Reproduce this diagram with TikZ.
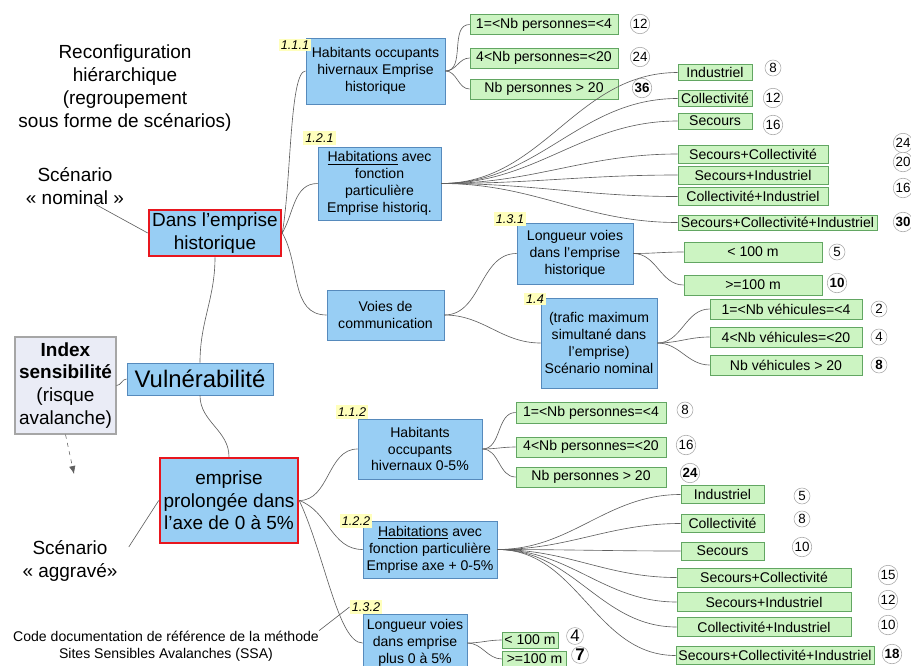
\documentclass[tikz,border=0pt]{standalone}
\usepackage{fontspec}
\setmainfont{Liberation Sans}
\usepackage{xcolor}
\usetikzlibrary{arrows.meta,positioning,calc}

\definecolor{boxblue}{RGB}{152,206,244}
\definecolor{edgeblue}{RGB}{86,138,188}
\definecolor{boxgreen}{RGB}{204,244,194}
\definecolor{edgegreen}{RGB}{98,166,98}
\definecolor{tagyellow}{RGB}{255,255,188}
\definecolor{keyred}{RGB}{232,22,30}
\definecolor{indexfill}{RGB}{234,236,246}
\definecolor{linkgray}{RGB}{95,95,95}

\tikzset{
  mmbox/.style={draw=edgeblue,fill=boxblue,line width=0.6pt,align=center,inner sep=1pt},
  keybox/.style={draw=keyred,fill=boxblue,line width=1.8pt,align=center,inner sep=1pt,font=\fontsize{13.5}{16}\selectfont},
  indexbox/.style={draw=gray!70,fill=indexfill,line width=0.8pt,align=center,inner sep=1pt,font=\fontsize{13.5}{16.3}\selectfont},
  leafbox/.style={draw=edgegreen,fill=boxgreen,line width=0.5pt,align=center,inner sep=1pt},
  numtag/.style={fill=tagyellow,inner sep=1.5pt,font=\fontsize{9}{10}\selectfont\itshape},
  score/.style={circle,draw=gray!70,fill=white,inner sep=0.5pt,minimum size=4mm,font=\fontsize{9.5}{10}\selectfont},
  note/.style={align=center,inner sep=0pt,font=\fontsize{13.5}{16.3}\selectfont},
  link/.style={draw=linkgray,line width=0.45pt}
}

\begin{document}
\begin{tikzpicture}[x=0.25mm,y=-0.25mm,>=Latex,font=\fontsize{10}{12}\selectfont]
  \useasboundingbox (0,0) rectangle (911,666);

  % left column
  \node[note] (reconf) at (125,88) {Reconfiguration\\hiérarchique\\(regroupement\\sous forme de scénarios)};
  \node[note] (nominal) at (75,186) {Scénario\\« nominal »};
  \node[keybox,minimum width=33mm,minimum height=11.5mm] (dans) at (215,233) {Dans l'emprise\\historique};
  \node[mmbox,font=\fontsize{17}{20}\selectfont,minimum width=36.5mm,minimum height=8mm] (vuln) at (200,379) {Vulnérabilité};
  \node[indexbox,minimum width=25.25mm,minimum height=24.25mm] (index) at (65.5,385.5) {\textbf{Index}\\\textbf{sensibilité}\\(risque\\avalanche)};
  \node[keybox,minimum width=34.5mm,minimum height=21.25mm] (axe) at (229,500.5) {emprise\\prolongée dans\\l'axe de 0 à 5\%};
  \node[note] (aggrave) at (70,561) {Scénario\\« aggravé»};
  \node[note,font=\fontsize{10}{12}\selectfont] (code) at (166,646) {Code documentation de référence de la méthode\\Sites Sensibles Avalanches (SSA)};
  \coordinate (drop) at (74,474);

  % second level
  \node[mmbox,minimum width=34.75mm,minimum height=16.5mm] (hab111) at (375.5,71) {Habitants occupants\\hivernaux Emprise\\historique};
  \node[mmbox,minimum width=30.75mm,minimum height=18.25mm] (hab121) at (379.5,183.5) {\underline{Habitations} avec\\fonction\\particulière\\Emprise historiq.};
  \node[mmbox,minimum width=29.25mm,minimum height=12.5mm] (voies) at (385.5,315) {Voies de\\communication};
  \node[mmbox,minimum width=29mm,minimum height=15.25mm] (lon131) at (575,253.5) {Longueur voies\\dans l'emprise\\historique};
  \node[mmbox,minimum width=29mm,minimum height=22.5mm] (traf14) at (599,343) {(trafic maximum\\simultané dans\\l'emprise)\\Scénario nominal};
  \node[mmbox,minimum width=31mm,minimum height=15mm] (hab112) at (420,449) {Habitants\\occupants\\hivernaux 0-5\%};
  \node[mmbox,minimum width=33.5mm,minimum height=14.25mm] (hab122) at (430,549.5) {\underline{Habitations} avec\\fonction particulière\\Emprise axe + 0-5\%};
  \node[mmbox,minimum width=26mm,minimum height=14.5mm] (lon132) at (415,643) {Longueur voies\\dans emprise\\plus 0 à 5\%};

  \node[numtag] (t111) at (295,45) {1.1.1};
  \node[numtag] (t121) at (319.5,138) {1.2.1};
  \node[numtag] (t131) at (510,219) {1.3.1};
  \node[numtag] (t14) at (535,299) {1.4};
  \node[numtag] (t112) at (352,412) {1.1.2};
  \node[numtag] (t122) at (356,521) {1.2.2};
  \node[numtag] (t132) at (366,607) {1.3.2};

  % leaves, historic footprint
  \node[leafbox,minimum width=37mm,minimum height=5mm] (a1) at (544,24.5) {1=<Nb personnes=<4};
  \node[leafbox,minimum width=37mm,minimum height=5mm] (a2) at (544,58) {4<Nb personnes=<20};
  \node[leafbox,minimum width=37mm,minimum height=5mm] (a3) at (544,89) {Nb personnes > 20};
  \node[leafbox,minimum width=18.5mm,minimum height=4mm] (b1) at (715,72.5) {Industriel};
  \node[leafbox,minimum width=18.5mm,minimum height=4mm] (b2) at (715,98.5) {Collectivité};
  \node[leafbox,minimum width=18.5mm,minimum height=4mm] (b3) at (715,121) {Secours};
  \node[leafbox,minimum width=37.5mm,minimum height=4.5mm] (b4) at (753,154) {Secours+Collectivité};
  \node[leafbox,minimum width=37.5mm,minimum height=4.5mm] (b5) at (753,175) {Secours+Industriel};
  \node[leafbox,minimum width=37.5mm,minimum height=4.5mm] (b6) at (753,196.5) {Collectivité+Industriel};
  \node[leafbox,minimum width=49.75mm,minimum height=3.75mm] (b7) at (777.5,222.5) {Secours+Collectivité+Industriel};
  \node[leafbox,minimum width=34.5mm,minimum height=5mm] (c1) at (753,252) {< 100 m};
  \node[leafbox,minimum width=34.5mm,minimum height=5mm] (c2) at (753,285) {>=100 m};
  \node[leafbox,minimum width=38mm,minimum height=5mm] (d1) at (786,309) {1=<Nb véhicules=<4};
  \node[leafbox,minimum width=38mm,minimum height=5mm] (d2) at (786,337) {4<Nb véhicules=<20};
  \node[leafbox,minimum width=38mm,minimum height=5mm] (d3) at (786,365) {Nb véhicules > 20};

  % leaves, extended axis
  \node[leafbox,minimum width=37.5mm,minimum height=5.25mm] (e1) at (591,412.5) {1=<Nb personnes=<4};
  \node[leafbox,minimum width=37.5mm,minimum height=5mm] (e2) at (591,447) {4<Nb personnes=<20};
  \node[leafbox,minimum width=37.5mm,minimum height=5mm] (e3) at (591,477) {Nb personnes > 20};
  \node[leafbox,minimum width=20.75mm,minimum height=4.5mm] (f1) at (722.5,494.5) {Industriel};
  \node[leafbox,minimum width=20.75mm,minimum height=4.5mm] (f2) at (722.5,523.5) {Collectivité};
  \node[leafbox,minimum width=20.75mm,minimum height=4.5mm] (f3) at (722.5,551) {Secours};
  \node[leafbox,minimum width=43.5mm,minimum height=4.75mm] (f4) at (764,577.5) {Secours+Collectivité};
  \node[leafbox,minimum width=43.5mm,minimum height=4.75mm] (f5) at (764,602) {Secours+Industriel};
  \node[leafbox,minimum width=43.5mm,minimum height=4.75mm] (f6) at (764,627) {Collectivité+Industriel};
  \node[leafbox,minimum width=49.5mm,minimum height=4.5mm] (f7) at (775,655.5) {Secours+Collectivité+Industriel};
  \node[leafbox,minimum width=14mm,minimum height=4mm] (g1) at (530,640) {< 100 m};
  \node[leafbox,minimum width=16mm,minimum height=3.75mm] (g2) at (534.5,659) {>=100 m};

  % scores
  \node[score] (na1) at (640,24) {12};
  \node[score] (na2) at (640,57) {24};
  \node[score] (na3) at (642,88) {\textbf{36}};
  \node[score] (nb1) at (773,68) {8};
  \node[score] (nb2) at (773,98) {12};
  \node[score] (nb3) at (773,125) {16};
  \node[score] (nb4) at (903,143) {24};
  \node[score] (nb5) at (903,162) {20};
  \node[score] (nb6) at (903,188) {16};
  \node[score] (nb7) at (903,222) {\textbf{30}};
  \node[score] (nc1) at (837,252) {5};
  \node[score] (nc2) at (837,283) {\textbf{10}};
  \node[score] (nd1) at (879,309) {2};
  \node[score] (nd2) at (879,337) {4};
  \node[score] (nd3) at (879,365) {\textbf{8}};
  \node[score] (ne1) at (685,410) {8};
  \node[score] (ne2) at (686,445) {16};
  \node[score] (ne3) at (690,473) {\textbf{24}};
  \node[score] (nf1) at (802,496) {5};
  \node[score] (nf2) at (802,519) {8};
  \node[score] (nf3) at (802,547) {10};
  \node[score] (nf4) at (888,575) {15};
  \node[score] (nf5) at (888,600) {12};
  \node[score] (nf6) at (888,625) {10};
  \node[score] (nf7) at (892,654) {\textbf{18}};
  \node[score,font=\fontsize{12}{12}\selectfont] (ng1) at (575,636) {4};
  \node[score,font=\fontsize{12}{12}\selectfont] (ng2) at (580,655) {\textbf{7}};

  % links
  \draw[link] ([xshift=-7mm]nominal.south east) -- (dans.west);
  \draw[link] ($(aggrave.east)+(11,-14)$) -- (axe.west);
  \draw[link] (code.north east) -- (t132.west);
  \draw[linkgray,dashed,-{Latex[length=2mm,width=1.6mm]}] (index.south) -- (drop);
  \draw[link] (index.east) to[out=0,in=180] (vuln.west);
  \draw[link] (dans.south) to[out=-90,in=90] (vuln.north);
  \draw[link] (vuln.south) to[out=-90,in=90] (axe.north);
  \draw[link] (dans.east) to[out=80,in=180,out looseness=0.8,in looseness=0.25] (hab111.west);
  \draw[link] (dans.east) to[out=60,in=180] (hab121.west);
  \draw[link] (dans.east) to[out=-60,in=180] (voies.west);
  \draw[link] (axe.east) to[out=0,in=180] (hab112.west);
  \draw[link] (axe.east) to[out=-20,in=180] (hab122.west);
  \draw[link] (axe.east) to[out=-65,in=180,in looseness=0.4] (lon132.west);

  \draw[link] (hab111.east) to[out=0,in=180] (a1.west);
  \draw[link] (hab111.east) to[out=0,in=180] (a2.west);
  \draw[link] (hab111.east) to[out=0,in=180] (a3.west);
  \draw[link] (hab121.east) to[out=0,in=180] (b1.west);
  \draw[link] (hab121.east) to[out=0,in=180] (b2.west);
  \draw[link] (hab121.east) to[out=0,in=180] (b3.west);
  \draw[link] (hab121.east) to[out=0,in=180] (b4.west);
  \draw[link] (hab121.east) to[out=0,in=180] (b5.west);
  \draw[link] (hab121.east) to[out=0,in=180] (b6.west);
  \draw[link] (hab121.east) to[out=0,in=180] (b7.west);
  \draw[link] (voies.east) to[out=0,in=180] (lon131.west);
  \draw[link] (voies.east) to[out=0,in=180] (traf14.west);
  \draw[link] (lon131.east) to[out=0,in=180] (c1.west);
  \draw[link] (lon131.east) to[out=0,in=180] (c2.west);
  \draw[link] (traf14.east) to[out=0,in=180] (d1.west);
  \draw[link] (traf14.east) to[out=0,in=180] (d2.west);
  \draw[link] (traf14.east) to[out=0,in=180] (d3.west);

  \draw[link] (hab112.east) to[out=0,in=180] (e1.west);
  \draw[link] (hab112.east) to[out=0,in=180] (e2.west);
  \draw[link] (hab112.east) to[out=0,in=180] (e3.west);
  \draw[link] (hab122.east) to[out=0,in=180] (f1.west);
  \draw[link] (hab122.east) to[out=0,in=180] (f2.west);
  \draw[link] (hab122.east) to[out=0,in=180] (f3.west);
  \draw[link] (hab122.east) to[out=0,in=180] (f4.west);
  \draw[link] (hab122.east) to[out=0,in=180] (f5.west);
  \draw[link] (hab122.east) to[out=0,in=180] (f6.west);
  \draw[link] (hab122.east) to[out=0,in=180] (f7.west);
  \draw[link] (lon132.east) to[out=0,in=180] (g1.west);
  \draw[link] (lon132.east) to[out=0,in=180] (g2.west);
\end{tikzpicture}
\end{document}
